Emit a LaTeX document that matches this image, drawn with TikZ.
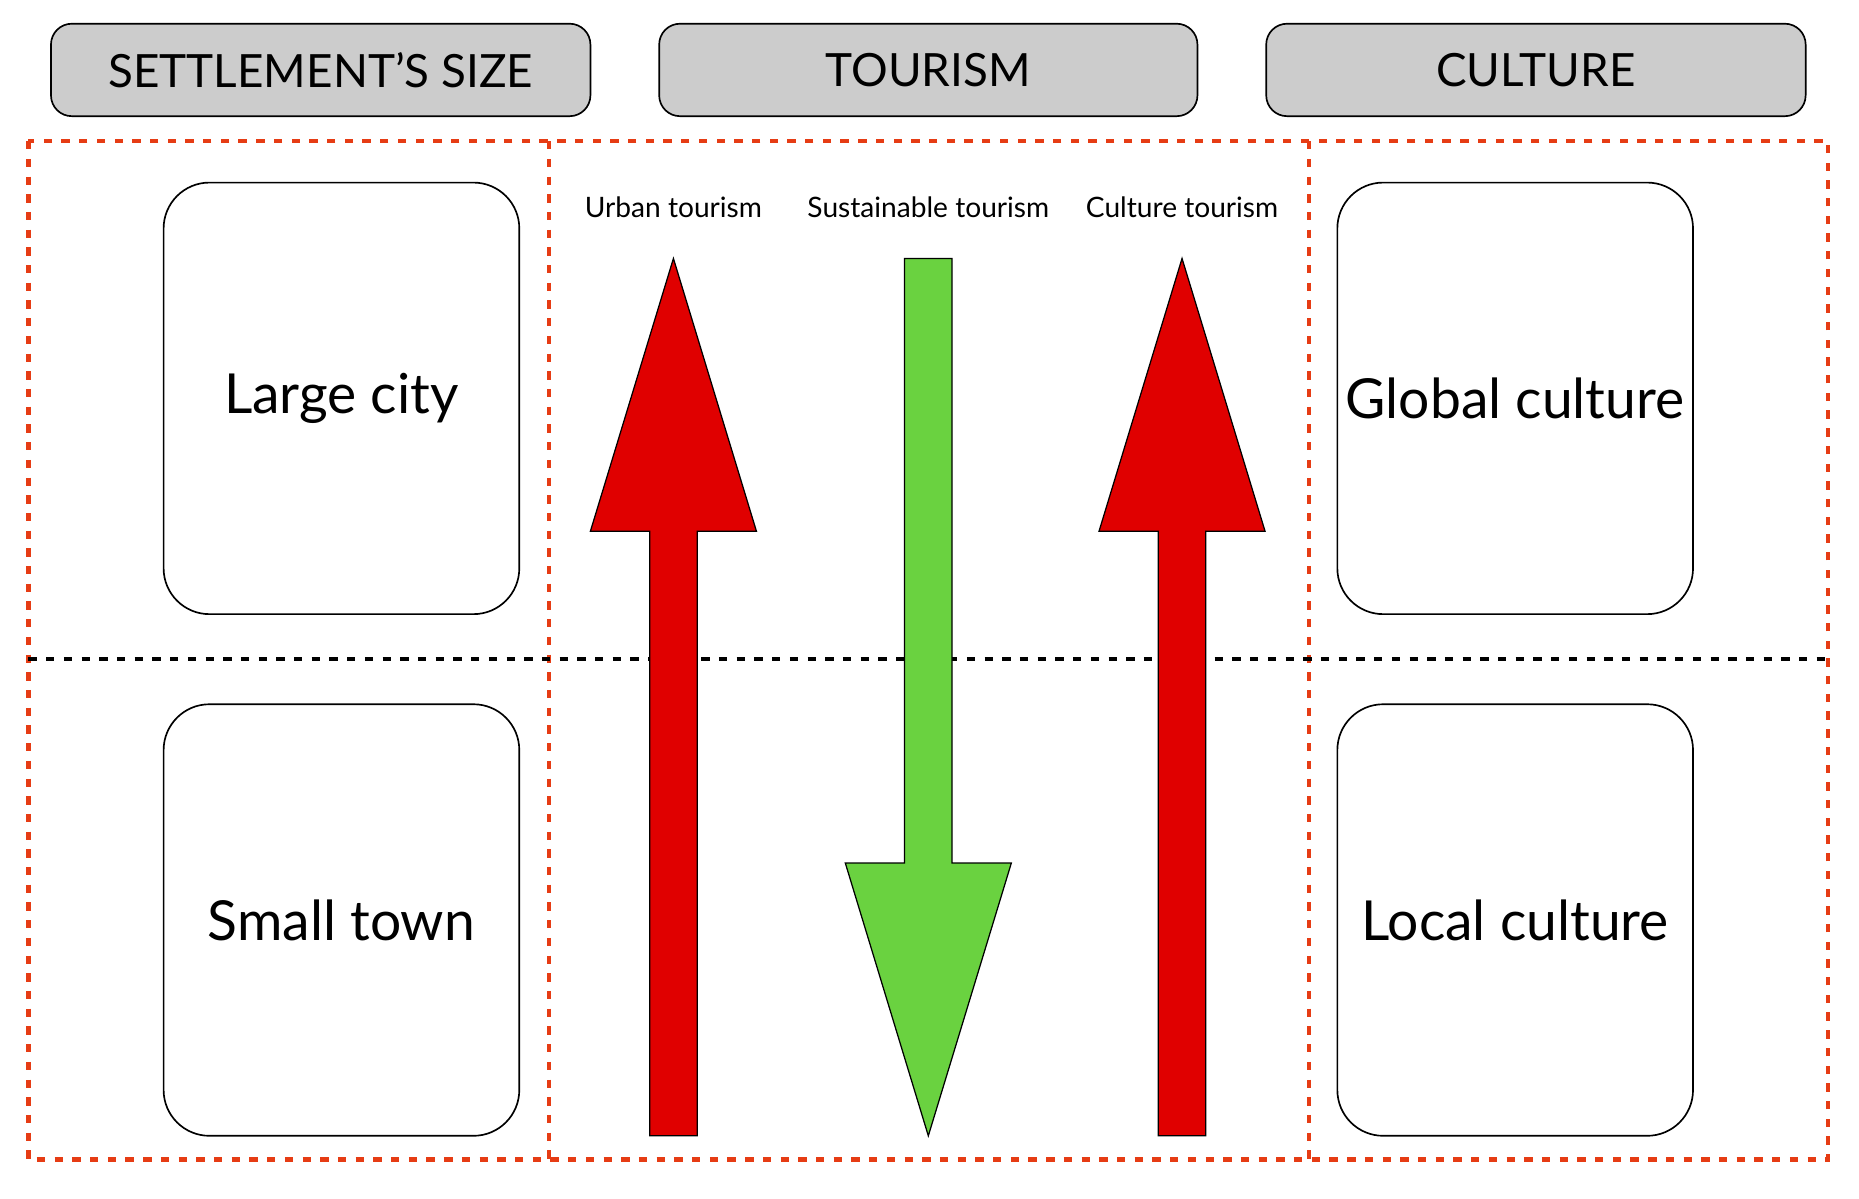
\documentclass[tikz,border=0pt]{standalone}
\usepackage{fontspec}
\setmainfont{Lato}
\definecolor{arred}{RGB}{224,0,0}
\definecolor{argreen}{RGB}{106,210,64}
\definecolor{dashred}{RGB}{230,60,20}
\begin{document}
\begin{tikzpicture}[x=0.02cm,y=-0.02cm,
 hdr/.style={draw=black,fill=gray!40,rounded corners=10pt,line width=0.8pt,font=\fontsize{22}{26}\selectfont},
 card/.style={draw=black,fill=white,rounded corners=22pt,line width=0.8pt,font=\fontsize{26.5}{30}\selectfont},
 red dash/.style={draw=dashred,line width=2pt,dash pattern=on 4pt off 4.5pt},
 lbl/.style={font=\fontsize{13.5}{16}\selectfont},
 arr/.style={draw=black,line width=0.6pt}]
\useasboundingbox (0,0) rectangle (1568,1011);
\node[hdr,minimum width=455*0.02cm,minimum height=78*0.02cm] (h1) at (270.5,59) {SETTLEMENT’S SIZE};
\node[hdr,minimum width=454*0.02cm,minimum height=78*0.02cm] (h2) at (783,59) {TOURISM};
\node[hdr,minimum width=455*0.02cm,minimum height=78*0.02cm] (h3) at (1295.5,59) {CULTURE};
\draw[red dash] (24,119) rectangle (1542,978);
\draw[red dash] (463,119) -- (463,978);
\draw[red dash] (1104,119) -- (1104,978);
\draw[line width=2pt,dash pattern=on 4pt off 4.5pt] (24,556) -- (1542,556);
\node[card,minimum width=300*0.02cm,minimum height=364*0.02cm] (lc) at (288,336) {Large city};
\node[card,minimum width=300*0.02cm,minimum height=364*0.02cm] (st) at (288,776) {Small town};
\node[card,minimum width=300*0.02cm,minimum height=364*0.02cm] (gc) at (1278,336) {Global culture};
\node[card,minimum width=300*0.02cm,minimum height=364*0.02cm] (lo) at (1278,776) {Local culture};
\node[lbl] (l1) at (568,175) {Urban tourism};
\node[lbl] (l2) at (783,175) {Sustainable tourism};
\node[lbl] (l3) at (997,175) {Culture tourism};
\filldraw[fill=arred,arr] (548,958) -- (548,448) -- (498,448) -- (568,218) -- (638,448) -- (588,448) -- (588,958) -- cycle;
\filldraw[fill=arred,arr] (977,958) -- (977,448) -- (927,448) -- (997,218) -- (1067,448) -- (1017,448) -- (1017,958) -- cycle;
\filldraw[fill=argreen,arr] (763,218) -- (763,728) -- (713,728) -- (783,958) -- (853,728) -- (803,728) -- (803,218) -- cycle;
\end{tikzpicture}
\end{document}
